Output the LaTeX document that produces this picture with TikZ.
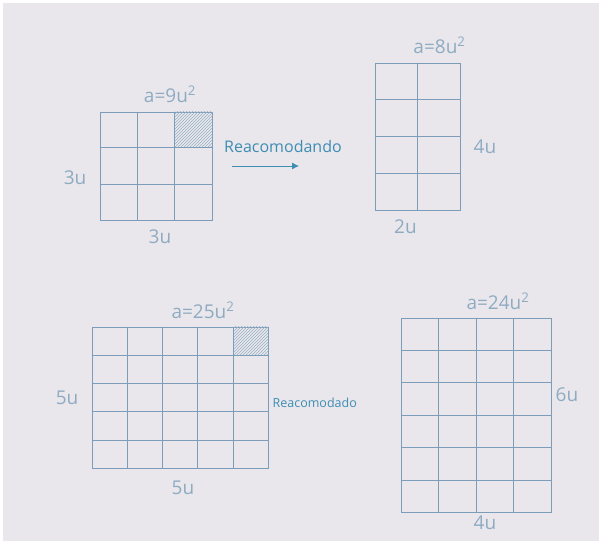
\documentclass[tikz,border=0pt]{standalone}
\usepackage{fontspec}
\setmainfont{Open Sans}
\usetikzlibrary{arrows.meta,positioning,calc,patterns}
\definecolor{wbBoard}{HTML}{E9E7EC}
\definecolor{wbLine}{HTML}{7C9DB9}
\definecolor{wbMuted}{HTML}{8FABC2}
\definecolor{wbTeal}{HTML}{3E8DB3}
\tikzset{
  wbGrid/.style={
    draw=wbLine,
    line width=0.9pt,
    inner sep=0pt
  },
  wbCell/.style={
    draw=wbLine,
    line width=0.8pt
  },
  wbShade/.style={
    fill=wbLine!35,
    pattern=north east lines,
    pattern color=wbLine!80
  },
  wbLabel/.style={
    font=\fontsize{19}{19}\selectfont,
    text=wbMuted,
    inner sep=1pt
  },
  wbNote/.style={
    font=\fontsize{16}{16}\selectfont,
    text=wbTeal,
    inner sep=1pt
  },
  wbArrow/.style={
    -{Latex[length=7pt,width=7pt]},
    line width=0.8pt,
    draw=wbTeal
  }
}
% inner lines of a grid node: name, columns, rows
\newcommand{\wbLines}[3]{%
  \foreach \i in {1,...,\numexpr#2-1\relax}
    \draw[wbCell] ($(#1.north west)!\i/#2!(#1.north east)$) -- ($(#1.south west)!\i/#2!(#1.south east)$);
  \foreach \j in {1,...,\numexpr#3-1\relax}
    \draw[wbCell] ($(#1.north west)!\j/#3!(#1.south west)$) -- ($(#1.north east)!\j/#3!(#1.south east)$);
}

\begin{document}
\begin{tikzpicture}[x=1pt,y=-1pt]

\useasboundingbox (0,0) rectangle (602,544);
\fill[white] (0,0) rectangle (602,544);
\fill[wbBoard] (3,3) rectangle (599,541);

% Square 3 x 3 and its rearrangement.
\node[wbGrid, minimum width=112pt, minimum height=108pt] (g1) at (156,166) {};
\fill[wbShade] ($(g1.north west)!2/3!(g1.north east)$) rectangle ($(g1.north east)!1/3!(g1.south east)$);
\wbLines{g1}{3}{3}
\node[wbLabel, above=8pt of g1, xshift=14pt] (a1) {a=9u\textsuperscript{2}};
\node[wbLabel, left=12pt of g1, yshift=-12pt] (h1) {3u};
\node[wbLabel, below=8pt of g1, xshift=4pt] (w1) {3u};

\node[wbNote] (reac1) at (283,146) {Reacomodando};
\coordinate (arrS) at (232,166);
\coordinate (arrE) at (299,166);
\draw[wbArrow] (arrS) -- (arrE);

\node[wbGrid, minimum width=85pt, minimum height=147pt] (g2) at (417.5,136.5) {};
\wbLines{g2}{2}{4}
\node[wbLabel, above=8pt of g2, xshift=22pt] (a2) {a=8u\textsuperscript{2}};
\node[wbLabel, right=12pt of g2, yshift=-10pt] (h2) {4u};
\node[wbLabel, below=8pt of g2, xshift=-12pt] (w2) {2u};

% Square 5 x 5 and its rearrangement.
\node[wbGrid, minimum width=176pt, minimum height=141pt] (g3) at (180,397.5) {};
\fill[wbShade] ($(g3.north west)!4/5!(g3.north east)$) rectangle ($(g3.north east)!1/5!(g3.south east)$);
\wbLines{g3}{5}{5}
\node[wbLabel, above=7pt of g3, xshift=23pt] (a3) {a=25u\textsuperscript{2}};
\node[wbLabel, left=12pt of g3] (h3) {5u};
\node[wbLabel, below=11pt of g3, xshift=3pt] (w3) {5u};
\node[wbNote, font=\fontsize{12.5}{12.5}\selectfont, right=3pt of g3, yshift=-5pt] (reac3) {Reacomodado};

\node[wbGrid, minimum width=150pt, minimum height=194pt] (g4) at (476,415) {};
\wbLines{g4}{4}{6}
\node[wbLabel, above=7pt of g4, xshift=22pt] (a4) {a=24u\textsuperscript{2}};
\node[wbLabel, right=3pt of g4, yshift=20pt] (h4) {6u};
\node[wbLabel, below=2pt of g4, xshift=9pt] (w4) {4u};

\end{tikzpicture}
\end{document}
